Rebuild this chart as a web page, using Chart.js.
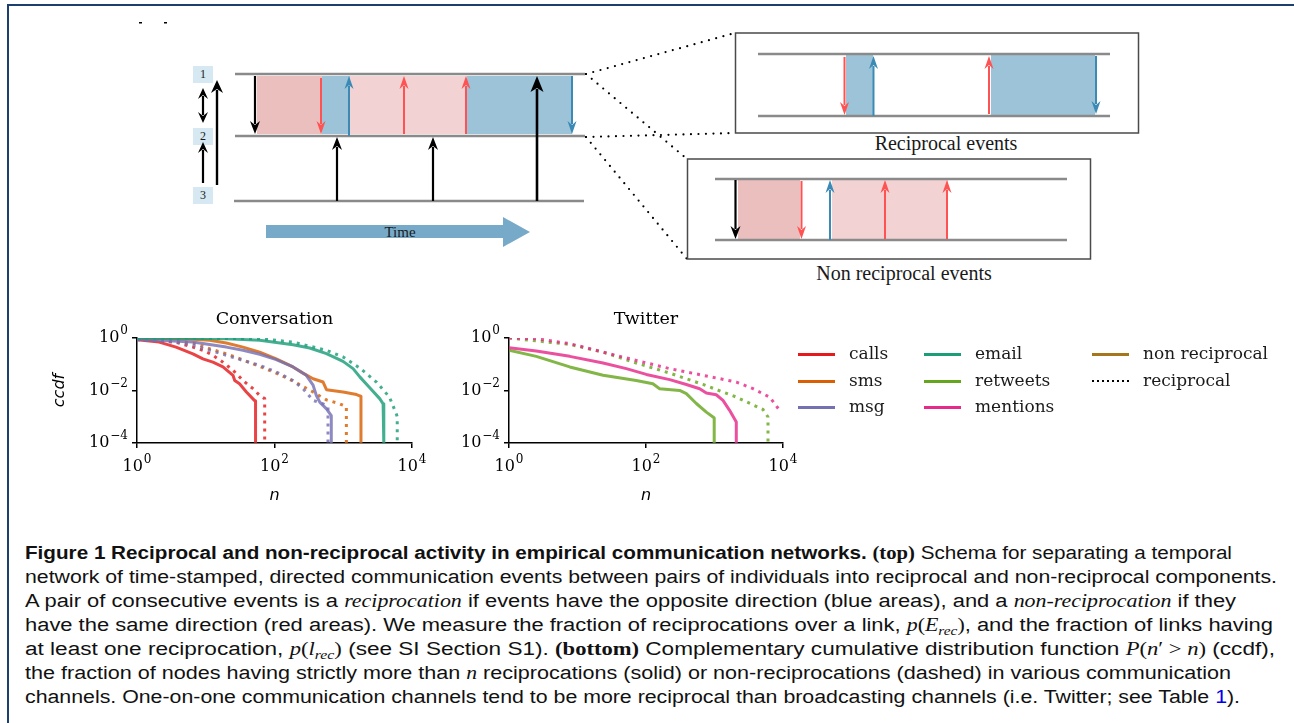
<!DOCTYPE html>
<html>
<head>
<meta charset="utf-8">
<script src="https://cdn.jsdelivr.net/npm/chart.js@4.4.0/dist/chart.umd.min.js"></script>
<style>
body { margin: 0; background: #fff; }
#page { position: relative; width: 1294px; height: 723px; overflow: hidden; background: #fff; }
.frame { position: absolute; background: #1d3f6e; }
#schema { position: absolute; left: 0; top: 0; }
canvas { position: absolute; }
.leg-line { position: absolute; height: 3px; width: 37px; }
.leg-text { position: absolute; font: 17px "DejaVu Serif"; color: #1a1a1a; line-height: 20px; white-space: nowrap; }
.cap { position: absolute; left: 25px; display: inline-block; white-space: nowrap; font: 18px "Liberation Sans"; color: #111;
       line-height: 24px; transform-origin: left center; }
.cap .sr { font-family: "Liberation Serif"; }
.cap .sr sub { font-size: 70%; vertical-align: -0.3em; line-height: 0; }
</style>
</head>
<body>
<div id="page">
  <div class="frame" style="left:7px;top:4px;width:1287px;height:2px"></div>
  <div class="frame" style="left:7px;top:4px;width:2px;height:719px"></div>

  <svg id="schema" width="1294" height="300"></svg>

  <canvas id="conversation-chart" width="390" height="215" style="left:40px;top:300px"></canvas>
  <canvas id="twitter-chart" width="381" height="215" style="left:420px;top:300px"></canvas>

  <div id="legend"></div>

  <div class="cap" style="top:541px"><b>Figure 1 Reciprocal and non-reciprocal activity in empirical communication networks.</b> <b class="sr">(top)</b> Schema for separating a temporal</div>
  <div class="cap" style="top:565px">network of time-stamped, directed communication events between pairs of individuals into reciprocal and non-reciprocal components.</div>
  <div class="cap" style="top:589px">A pair of consecutive events is a <i class="sr">reciprocation</i> if events have the opposite direction (blue areas), and a <i class="sr">non-reciprocation</i> if they</div>
  <div class="cap" style="top:613px">have the same direction (red areas). We measure the fraction of reciprocations over a link, <span class="sr"><i>p</i>(<i>E<sub>rec</sub></i>)</span>, and the fraction of links having</div>
  <div class="cap" style="top:637px">at least one reciprocation, <span class="sr"><i>p</i>(<i>l<sub>rec</sub></i>)</span> (see SI Section S1). <b class="sr">(bottom)</b> Complementary cumulative distribution function <span class="sr"><i>P</i>(<i>n</i>′ &gt; <i>n</i>)</span> (ccdf),</div>
  <div class="cap" style="top:661px">the fraction of nodes having strictly more than <i class="sr">n</i> reciprocations (solid) or non-reciprocations (dashed) in various communication</div>
  <div class="cap" style="top:685px">channels. One-on-one communication channels tend to be more reciprocal than broadcasting channels (i.e. Twitter; see Table <span style="color:#0000ee">1</span>).</div>
</div>

<script>
// ---- DATA (n, ccdf) ----
const X_TICKS = [1, 100, 10000];
const Y_TICKS = [1e-4, 1e-2, 1];

// Conversation
const callsNonRecN = [1, 2.1, 3.7, 6.5, 9.1, 12.7, 17.8, 24.9, 26.4, 31, 39, 51, 53, 53];
const callsNonRecP = [0.86, 0.70, 0.45, 0.25, 0.16, 0.12, 0.079, 0.038, 0.024, 0.018, 0.0088, 0.0042, 0.0040, 0.0001];
const callsRecN = [1, 2.1, 3.7, 6.5, 9.1, 12.7, 17.8, 24.9, 34.8, 48.7, 60.9, 72, 72];
const callsRecP = [0.88, 0.81, 0.68, 0.45, 0.34, 0.22, 0.12, 0.059, 0.024, 0.0117, 0.0065, 0.0049, 0.0001];

const smsNonRecN = [1, 6.5, 11.4, 19.9, 34.8, 60.9, 106, 186, 260, 364, 509, 570, 993, 1560, 1810, 1810];
const smsNonRecP = [1, 0.89, 0.815, 0.645, 0.45, 0.29, 0.16, 0.079, 0.046, 0.028, 0.021, 0.0107, 0.0088, 0.0070, 0.0060, 0.0001];
const smsRecN = [1, 6.5, 11.4, 19.9, 31, 60.9, 106, 186, 364, 570, 888, 1110, 1110];
const smsRecP = [1, 0.645, 0.39, 0.25, 0.163, 0.083, 0.046, 0.023, 0.0088, 0.0044, 0.0031, 0.0024, 0.0001];

const msgNonRecN = [1, 6.5, 19.9, 34.8, 60.9, 106, 186, 290, 364, 405, 455, 570, 670, 670];
const msgNonRecP = [0.89, 0.70, 0.45, 0.34, 0.24, 0.15, 0.079, 0.038, 0.016, 0.0066, 0.0036, 0.0020, 0.0011, 0.0001];
const msgRecN = [1, 3.7, 6.5, 11.4, 19.9, 34.8, 60.9, 106, 186, 260, 364, 509, 600, 600];
const msgRecP = [0.86, 0.70, 0.53, 0.34, 0.22, 0.14, 0.091, 0.051, 0.024, 0.0117, 0.0042, 0.0031, 0.0024, 0.0001];

const emailNonRecN = [1, 19.9, 60.9, 186, 325, 570, 993, 1390, 1740, 2430, 3390, 3800, 3890, 3890];
const emailNonRecP = [1, 0.94, 0.815, 0.557, 0.416, 0.253, 0.129, 0.068, 0.033, 0.0128, 0.0049, 0.0031, 0.0028, 0.0001];
const emailRecN = [1, 60.9, 186, 570, 993, 1740, 3040, 4700, 5900, 6100, 6100];
const emailRecP = [1, 0.94, 0.70, 0.34, 0.19, 0.072, 0.021, 0.0056, 0.0013, 0.0010, 0.0001];

// Twitter
const mentionsNonRecN = [1, 2.5, 7.7, 23.6, 51.6, 101, 222, 388, 607, 760, 1060, 1330, 1660, 2080, 2080];
const mentionsNonRecP = [0.43, 0.32, 0.20, 0.112, 0.068, 0.041, 0.026, 0.017, 0.0117, 0.0080, 0.0069, 0.0042, 0.00175, 0.00063, 0.0001];
const retweetsNonRecN = [1, 2.5, 7.7, 23.6, 72, 126, 158, 310, 388, 543, 760, 951, 990, 990];
const retweetsNonRecP = [0.34, 0.20, 0.079, 0.038, 0.024, 0.018, 0.0117, 0.0101, 0.0076, 0.0032, 0.0015, 0.00098, 0.00090, 0.0001];
const mentionsRecN = [1, 2.5, 7.7, 23.6, 72, 222, 679, 2080, 3650, 6390, 8940];
const mentionsRecP = [1, 0.94, 0.61, 0.29, 0.14, 0.068, 0.038, 0.021, 0.0117, 0.0056, 0.00175];
const retweetsRecN = [1, 7.7, 23.6, 72, 222, 679, 2080, 5100, 6040, 6040];
const retweetsRecP = [1, 0.57, 0.29, 0.112, 0.046, 0.017, 0.0056, 0.0019, 0.00098, 0.0001];

// ---- colours ----
const C = {
  calls: '#e41a1c', sms: '#d95f02', msg: '#7570b3', email: '#1b9e77',
  retweets: '#66a61e', mentions: '#e7298a', nonrec: '#a6761d'
};
const fade = (hex, a) => {
  const n = parseInt(hex.slice(1), 16);
  return `rgba(${n >> 16},${(n >> 8) & 255},${n & 255},${a})`;
};

const series = (ns, ps, color, dotted) => ({
  data: ns.map((n, i) => ({ x: n, y: ps[i] })),
  borderColor: fade(color, 0.82),
  borderWidth: 3,
  borderDash: dotted ? [3, 5] : [],
  borderCapStyle: 'butt',
  borderJoinStyle: 'round',
  pointRadius: 0,
  tension: 0,
  fill: false
});

// "10" with a raised exponent, like the mathtext labels of the original
const drawPower = (ctx, px, py, value, align) => {
  const e = Math.round(Math.log10(value));
  const exp = e < 0 ? '\u2212' + (-e) : String(e);
  ctx.font = '16px "DejaVu Serif"';
  const bw = ctx.measureText('10').width;
  ctx.font = '12px "DejaVu Serif"';
  const ew = ctx.measureText(exp).width;
  const total = bw + 1 + ew;
  const left = align === 'center' ? px - total / 2 : px - total;
  ctx.textAlign = 'left';
  ctx.textBaseline = 'middle';
  ctx.font = '16px "DejaVu Serif"';
  ctx.fillText('10', left, py);
  ctx.font = '12px "DejaVu Serif"';
  ctx.fillText(exp, left + bw + 1, py - 7);
};

const powerTicks = {
  id: 'powerTicks',
  afterDraw(chart) {
    const { ctx, scales: { x, y } } = chart;
    ctx.save();
    ctx.fillStyle = '#000';
    X_TICKS.forEach(v => drawPower(ctx, x.getPixelForValue(v), x.top + 24, v, 'center'));
    Y_TICKS.forEach(v => drawPower(ctx, y.right - 9, y.getPixelForValue(v), v, 'right'));
    ctx.restore();
  }
};

// title drawn above the plot area
const panelTitle = {
  id: 'panelTitle',
  afterDraw(chart, args, opts) {
    const { ctx, chartArea: a } = chart;
    ctx.save();
    ctx.font = '17.5px "DejaVu Serif"';
    ctx.fillStyle = '#000';
    ctx.textAlign = 'center';
    ctx.textBaseline = 'middle';
    ctx.fillText(opts.text, (a.left + a.right) / 2, a.top - 19);
    ctx.restore();
  }
};

const axisBase = {
  grid: { drawOnChartArea: false, drawTicks: true, tickLength: 5, color: '#000', lineWidth: 1.5 },
  border: { color: '#000', width: 1.5 },
  ticks: { display: false, autoSkip: false }
};

const makeOptions = (title, yLabel, yWidth) => ({
  responsive: false,
  animation: false,
  devicePixelRatio: 1,
  layout: { padding: { top: 38, right: 18, left: 0, bottom: 0 } },
  plugins: {
    legend: { display: false },
    tooltip: { enabled: false },
    panelTitle: { text: title }
  },
  scales: {
    x: {
      ...axisBase,
      type: 'logarithmic', min: 1, max: 10000,
      afterBuildTicks: s => { s.ticks = X_TICKS.map(v => ({ value: v })); },
      afterFit: s => { s.height = 72; },
      title: { display: true, text: 'n', color: '#000',
               font: { family: 'DejaVu Sans', size: 16, style: 'italic' }, padding: { top: 10, bottom: 10 } }
    },
    y: {
      ...axisBase,
      type: 'logarithmic', min: 1e-4, max: 1,
      afterBuildTicks: s => { s.ticks = Y_TICKS.map(v => ({ value: v })); },
      afterFit: s => { s.width = yWidth; },
      title: { display: !!yLabel, text: yLabel, color: '#000',
               font: { family: 'DejaVu Sans', size: 16, style: 'italic' }, padding: { top: 10, bottom: 10 } }
    }
  }
});

let conversationChart = new Chart(document.getElementById('conversation-chart'), {
  type: 'line',
  data: {
    datasets: [
      series(emailNonRecN, emailNonRecP, C.email, false),
      series(emailRecN, emailRecP, C.email, true),
      series(msgNonRecN, msgNonRecP, C.msg, false),
      series(msgRecN, msgRecP, C.msg, true),
      series(smsNonRecN, smsNonRecP, C.sms, false),
      series(smsRecN, smsRecP, C.sms, true),
      series(callsNonRecN, callsNonRecP, C.calls, false),
      series(callsRecN, callsRecP, C.calls, true)
    ]
  },
  options: makeOptions('Conversation', 'ccdf', 97),
  plugins: [panelTitle, powerTicks]
});

let twitterChart = new Chart(document.getElementById('twitter-chart'), {
  type: 'line',
  data: {
    datasets: [
      series(mentionsRecN, mentionsRecP, C.mentions, true),
      series(retweetsRecN, retweetsRecP, C.retweets, true),
      series(mentionsNonRecN, mentionsNonRecP, C.mentions, false),
      series(retweetsNonRecN, retweetsNonRecP, C.retweets, false)
    ]
  },
  options: makeOptions('Twitter', '', 89),
  plugins: [panelTitle, powerTicks]
});

// ---- legend (three columns) ----
const legendItems = [
  ['calls', C.calls, 798, 354], ['sms', C.sms, 798, 381], ['msg', C.msg, 798, 407],
  ['email', C.email, 924, 354], ['retweets', C.retweets, 924, 381], ['mentions', C.mentions, 924, 407],
  ['non reciprocal', C.nonrec, 1092, 354], ['reciprocal', null, 1092, 381]
];
const legend = document.getElementById('legend');
legendItems.forEach(([label, color, x, y]) => {
  const line = document.createElement('div');
  line.className = 'leg-line';
  line.style.left = x + 'px';
  if (color) {
    line.style.top = (y - 1.5) + 'px';
    line.style.background = color;
  } else {
    line.style.top = (y - 1) + 'px';
    line.style.height = '2px';
    line.style.background = 'repeating-linear-gradient(to right,#000 0 2px,transparent 2px 5px)';
  }
  legend.appendChild(line);
  const text = document.createElement('div');
  text.className = 'leg-text';
  text.textContent = label;
  text.style.left = (x + 51) + 'px';
  text.style.top = (y - 11) + 'px';
  legend.appendChild(text);
});

// ---- schema (top) ----
const svg = document.getElementById('schema');
const NS = 'http://www.w3.org/2000/svg';
const el = (tag, attrs) => {
  const e = document.createElementNS(NS, tag);
  for (const k in attrs) e.setAttribute(k, attrs[k]);
  svg.appendChild(e);
  return e;
};
const RED = '#ff5252', BLUE = '#3b8ab6', PINK = '#ecbfbf', LPINK = '#f2d2d2', LBLUE = '#9cc3d7', GREY = '#8a8a8a';
const area = (x1, x2, y1, y2, fill) => el('rect', { x: x1, y: y1, width: x2 - x1, height: y2 - y1, fill });
const hline = (x1, x2, y) => el('line', { x1, x2, y1: y, y2: y, stroke: GREY, 'stroke-width': 2.5 });
const head = (x, yTip, dir, hl, hw, color) =>
  el('polygon', { fill: color, points: `${x},${yTip} ${x - hw},${yTip - dir * hl} ${x},${yTip - dir * (hl - 4)} ${x + hw},${yTip - dir * hl}` });
const arrow = (x, yTail, yTip, color, w, hl, hw) => {
  const dir = yTip > yTail ? 1 : -1;
  el('line', { x1: x, x2: x, y1: yTail, y2: yTip - dir * (hl - 3), stroke: color, 'stroke-width': w });
  head(x, yTip, dir, hl, hw, color);
};
const dots = (x1, y1, x2, y2) =>
  el('line', { x1, y1, x2, y2, stroke: '#000', 'stroke-width': 2.2, 'stroke-linecap': 'round', 'stroke-dasharray': '0 7.5' });
const label = (x, y, text, size, anchor) => {
  const t = el('text', { x, y, 'font-family': 'Liberation Serif', 'font-size': size, 'text-anchor': anchor || 'middle',
                         'dominant-baseline': 'central', fill: '#1a1a1a' });
  t.textContent = text;
};

// tiny marks top-left
el('rect', { x: 139, y: 22, width: 3, height: 1.5, fill: '#000' });
el('rect', { x: 164, y: 22, width: 3, height: 1.5, fill: '#000' });

// main timeline
area(257, 322, 76, 134, PINK);
area(322, 350, 76, 134, LBLUE);
area(350, 467, 76, 134, LPINK);
area(467, 572, 76, 134, LBLUE);
hline(235, 585, 74);
hline(235, 585, 136);
hline(234, 584, 201);
[[74, '1'], [136, '2'], [195, '3']].forEach(([y, t]) => {
  el('rect', { x: 193, y: y - 8, width: 20, height: 17, fill: '#d6e8f1' });
  label(203, y, t, 12);
});
arrow(255, 76, 134, '#000', 2.2, 13, 5);
arrow(321, 78, 134, RED, 2, 13, 4.5);
arrow(349, 136, 76, BLUE, 2, 13, 4.5);
arrow(404, 134, 76, RED, 2, 13, 4.5);
arrow(466, 134, 76, RED, 2, 13, 4.5);
arrow(572, 76, 134, BLUE, 2, 13, 4.5);
arrow(337, 201, 137, '#000', 2.2, 13, 5);
arrow(433, 201, 137, '#000', 2.2, 13, 5);
arrow(537, 201, 76, '#000', 2.6, 16, 6.5);
// left direction arrows
el('line', { x1: 203, x2: 203, y1: 96, y2: 115, stroke: '#000', 'stroke-width': 2.2 });
head(203, 88, -1, 11, 5, '#000');
head(203, 123, 1, 11, 5, '#000');
arrow(203, 183, 142, '#000', 2.2, 11, 5);
arrow(217, 185, 80, '#000', 2.4, 13, 6);
// time arrow
el('polygon', { fill: '#77aac8', points: '266,225 503,225 503,217 530,232 503,247 503,238 266,238' });
label(400, 232, 'Time', 15);

// zoom lines
dots(586, 74, 735, 33);
dots(586, 74, 687, 159);
dots(586, 137, 735, 133);
dots(586, 137, 687, 259);

// reciprocal inset
el('rect', { x: 735.5, y: 33, width: 403, height: 100, fill: '#fff', stroke: '#4a4a4a', 'stroke-width': 1.5 });
area(846, 873, 55, 115, LBLUE);
area(991, 1095, 55, 115, LBLUE);
hline(758, 1110, 54);
hline(758, 1110, 116);
arrow(844.5, 57, 115, RED, 2, 13, 4.5);
arrow(873.5, 116, 56, BLUE, 2, 13, 4.5);
arrow(989, 114, 56, RED, 2, 13, 4.5);
arrow(1096, 56, 114, BLUE, 2, 13, 4.5);
label(946, 143, 'Reciprocal events', 20);

// non reciprocal inset
el('rect', { x: 687.5, y: 159, width: 403, height: 100, fill: '#fff', stroke: '#4a4a4a', 'stroke-width': 1.5 });
area(738, 800, 180, 239, PINK);
area(832, 948, 180, 239, LPINK);
hline(715, 1067, 179);
hline(715, 1067, 240);
arrow(735.5, 180, 239, '#000', 2.2, 13, 5);
arrow(801.5, 181, 239, RED, 2, 13, 4.5);
arrow(830, 240, 180, BLUE, 2, 13, 4.5);
arrow(885, 239, 180, RED, 2, 13, 4.5);
arrow(947, 239, 180, RED, 2, 13, 4.5);
label(904, 273, 'Non reciprocal events', 20);

// ---- caption line widths ----
const CAP_LEFT = 25;
const capEnds = [1232, 1277, 1236, 1273, 1275, 1231, 1240];
document.querySelectorAll('.cap').forEach((line, i) => {
  const w = line.getBoundingClientRect().width;
  line.style.transform = `scaleX(${((capEnds[i] - CAP_LEFT) / w).toFixed(4)})`;
});
</script>
</body>
</html>
